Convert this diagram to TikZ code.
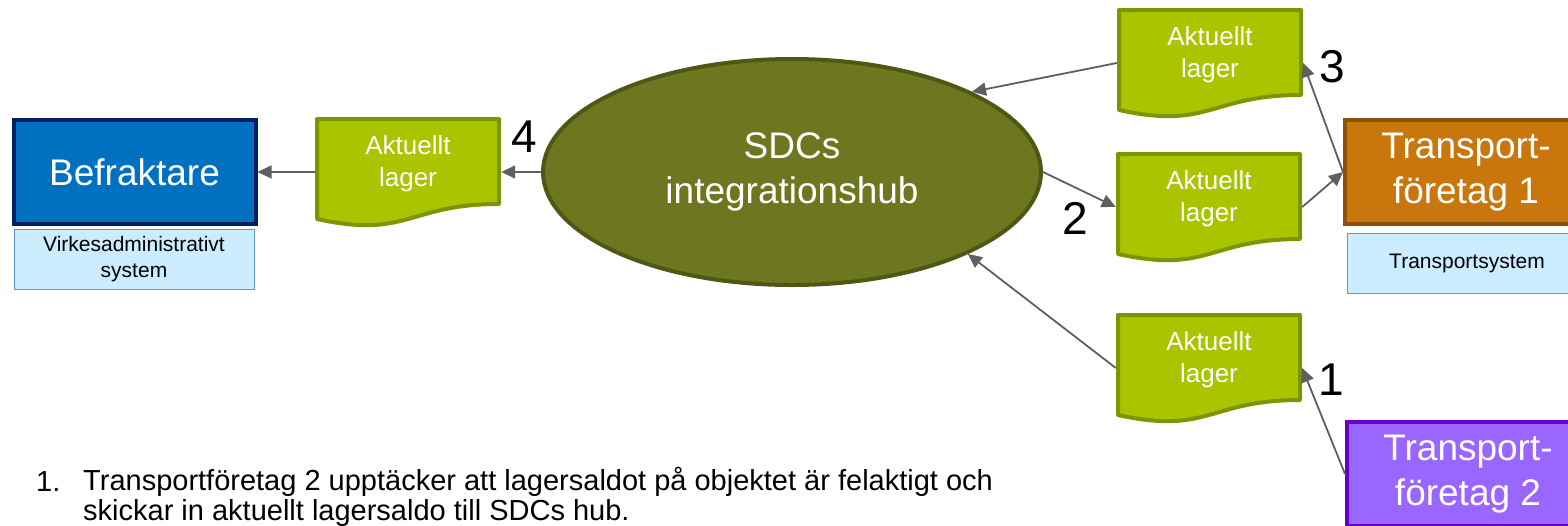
\documentclass[tikz,border=0pt]{standalone}
\usepackage{fontspec}
\setmainfont{Liberation Sans}
\usetikzlibrary{shapes.geometric}
\usetikzlibrary{arrows.meta}
\definecolor{blabla}{RGB}{0,112,192}
\definecolor{marin}{RGB}{0,32,96}
\definecolor{ljusbla}{RGB}{204,236,255}
\definecolor{blakant}{RGB}{91,155,213}
\definecolor{limegron}{RGB}{168,197,0}
\definecolor{limekant}{RGB}{126,148,0}
\definecolor{oliv}{RGB}{108,119,32}
\definecolor{olivkant}{RGB}{78,88,20}
\definecolor{ockra}{RGB}{201,118,12}
\definecolor{ockrakant}{RGB}{140,82,9}
\definecolor{lila}{RGB}{153,102,255}
\definecolor{lilakant}{RGB}{102,0,204}
\definecolor{pilgra}{RGB}{95,95,95}

\begin{document}
\begin{tikzpicture}[x=1pt,y=-1pt,
  aktor/.style={draw,line width=4pt,minimum width=242pt,minimum height=104pt,inner sep=0pt,text=white,align=center,font=\fontsize{37pt}{45pt}\selectfont},
  system/.style={draw=blakant,line width=1pt,fill=ljusbla,minimum width=240pt,minimum height=60pt,inner sep=0pt,align=center,font=\fontsize{21pt}{26pt}\selectfont},
  pil/.style={pilgra,line width=1.8pt,-{Triangle[length=14pt,width=13pt]}},
  siffra/.style={inner sep=0pt,font=\fontsize{46pt}{46pt}\selectfont}]
\useasboundingbox (0,0) rectangle (1568,525);
\clip (0,0) rectangle (1568,525);
% dokument "Aktuellt lager"
\foreach \n/\x/\y in {d4/315/117,d3/1117/8,d2/1116/152,d1/1116/313}{
  \draw [limekant,fill=limegron,line width=4pt,line join=round] (\x+2,\y+2) -- (\x+184,\y+2) -- (\x+184,\y+87) .. controls (\x+93,\y+87) and (\x+93,\y+122) .. (\x+2,\y+102) -- cycle;
  \node [minimum width=186pt,minimum height=110pt,inner sep=0pt] (\n) at (\x+93,\y+55) {};
  \node [text=white,align=center,font=\fontsize{26pt}{32pt}\selectfont] (\n-txt) at (\x+93,\y+47) {Aktuellt\\lager};
}
\node [ellipse,draw=olivkant,fill=oliv,line width=4pt,minimum width=498pt,minimum height=226pt,inner sep=0pt,text=white,align=center,font=\fontsize{37pt}{45pt}\selectfont] (hub) at (792,172) {SDCs\\integrationshub};
\node [aktor,draw=marin,fill=blabla] (bef) at (134.5,172) {Befraktare};
\node [system] (vas) at (134,259.5) {Virkesadministrativt\\system};
\node [aktor,draw=ockrakant,fill=ockra] (t1) at (1466,172) {Transport-\\företag 1};
\node [system] (ts) at (1467,263) {Transportsystem};
\node [aktor,draw=lilakant,fill=lila] (t2) at (1468,474) {Transport-\\företag 2};
% pilar
\draw [pil] (d4.west) -- (bef.east);
\draw [pil] (hub.west) -- (d4.east);
\draw [pil] (d3.west) -- (hub.24);
\draw [pil] (hub.east) -- (d2.west);
\draw [pil] (d1.west) -- (hub.-25);
\draw [pil] (t1.west) -- (d3.east);
\draw [pil] (d2.east) -- (t1.west);
\draw [pil] (t2.west) -- (d1.east);
% siffror
\node [siffra] (n4) at (524,137) {4};
\node [siffra] (n3) at (1332,67) {3};
\node [siffra] (n2) at (1075,218) {2};
\node [siffra] (n1) at (1331,380) {1};
% beskrivning
\node [anchor=base west,inner sep=0pt,font=\fontsize{29pt}{30pt}\selectfont] (nr) at (36,491) {1.};
\node [anchor=north west,inner sep=0pt,align=left,font=\fontsize{29pt}{30pt}\selectfont] (punkt) at (83,466.5) {Transportföretag 2 upptäcker att lagersaldot på objektet är felaktigt och\\skickar in aktuellt lagersaldo till SDCs hub.};
\end{tikzpicture}
\end{document}
